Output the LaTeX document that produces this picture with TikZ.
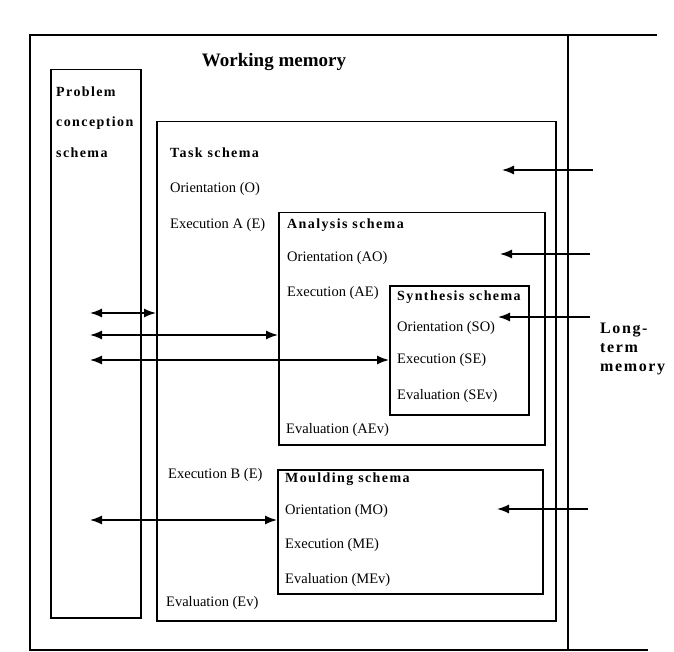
\documentclass[tikz,border=0pt]{standalone}
\usepackage{fontspec}
\setmainfont{Liberation Serif}
\newfontfamily\headfont[LetterSpace=10]{Liberation Serif}
\usetikzlibrary{arrows.meta}

\begin{document}
\begin{tikzpicture}[x=1pt,y=-1pt,
  box/.style={draw, line width=1.5pt, inner sep=0pt, anchor=north west},
  txt/.style={anchor=west, inner sep=0pt, font=\fontsize{14.5}{17}\selectfont},
  head/.style={anchor=west, inner sep=0pt, font=\headfont\bfseries\fontsize{14}{17}\selectfont},
  link/.style={line width=1.5pt, {Latex[length=12pt,width=9pt]}-{Latex[length=12pt,width=9pt]}},
  feed/.style={line width=1.5pt, -{Latex[length=12pt,width=9pt]}}]
\useasboundingbox (0,0) rectangle (674,652);
\draw[line width=1.5pt] (657,35) -- (30,35) -- (30,650) -- (648,650);
\draw[line width=1.5pt] (568,35) -- (568,650);
\node[font=\bfseries\fontsize{19}{22}\selectfont] (wm) at (274,62) {Working memory};

\node[box, minimum width=90pt, minimum height=548pt] (problem) at (50,69) {};
\node[box, minimum width=399pt, minimum height=499pt] (task) at (156,121) {};
\node[box, minimum width=266pt, minimum height=232pt] (analysis) at (278,212) {};
\node[box, minimum width=139pt, minimum height=129pt] (synthesis) at (389,285) {};
\node[box, minimum width=265pt, minimum height=124pt] (moulding) at (277,469) {};

\node[head, align=left, font=\headfont\bfseries\fontsize{14}{30.5}\selectfont] (pcs) at (56,122) {Problem\\conception\\schema};

\node[head] (taskT) at (170,153) {Task schema};
\node[txt] (tO) at (170,189) {Orientation (O)};
\node[txt] (tEA) at (170,225) {Execution A (E)};
\node[txt] (tEB) at (168,475) {Execution B (E)};
\node[txt] (tEv) at (166,603) {Evaluation (Ev)};

\node[head] (anaT) at (287,225) {Analysis schema};
\node[txt] (aO) at (287,258) {Orientation (AO)};
\node[txt] (aE) at (287,293) {Execution (AE)};
\node[txt] (aEv) at (286,430) {Evaluation (AEv)};

\node[head] (synT) at (397,297) {Synthesis schema};
\node[txt] (sO) at (397,328) {Orientation (SO)};
\node[txt] (sE) at (397,360) {Execution (SE)};
\node[txt] (sEv) at (397,396) {Evaluation (SEv)};

\node[head] (mouT) at (285,479) {Moulding schema};
\node[txt] (mO) at (285,511) {Orientation (MO)};
\node[txt] (mE) at (285,545) {Execution (ME)};
\node[txt] (mEv) at (285,580) {Evaluation (MEv)};

\node[head, align=left, font=\headfont\bfseries\fontsize{16}{19}\selectfont] (ltm) at (600,349) {Long-\\term\\memory};

\coordinate (pl1) at (90,313);
\coordinate (pl2) at (90,335);
\coordinate (pl3) at (90,360);
\coordinate (pl4) at (90,520);
\draw[link] (pl1) -- (task.west |- pl1);
\draw[link] (pl2) -- (analysis.west |- pl2);
\draw[link] (pl3) -- (synthesis.west |- pl3);
\draw[link] (pl4) -- (moulding.west |- pl4);

\coordinate (lt1) at (593,170);
\coordinate (lt2) at (590,254);
\coordinate (lt3) at (590,317);
\coordinate (lt4) at (588,509);
\coordinate (in1) at (502,170);
\coordinate (in2) at (500,254);
\coordinate (in3) at (498,317);
\coordinate (in4) at (497,509);
\draw[feed] (lt1) -- (in1);
\draw[feed] (lt2) -- (in2);
\draw[feed] (lt3) -- (in3);
\draw[feed] (lt4) -- (in4);
\end{tikzpicture}
\end{document}
